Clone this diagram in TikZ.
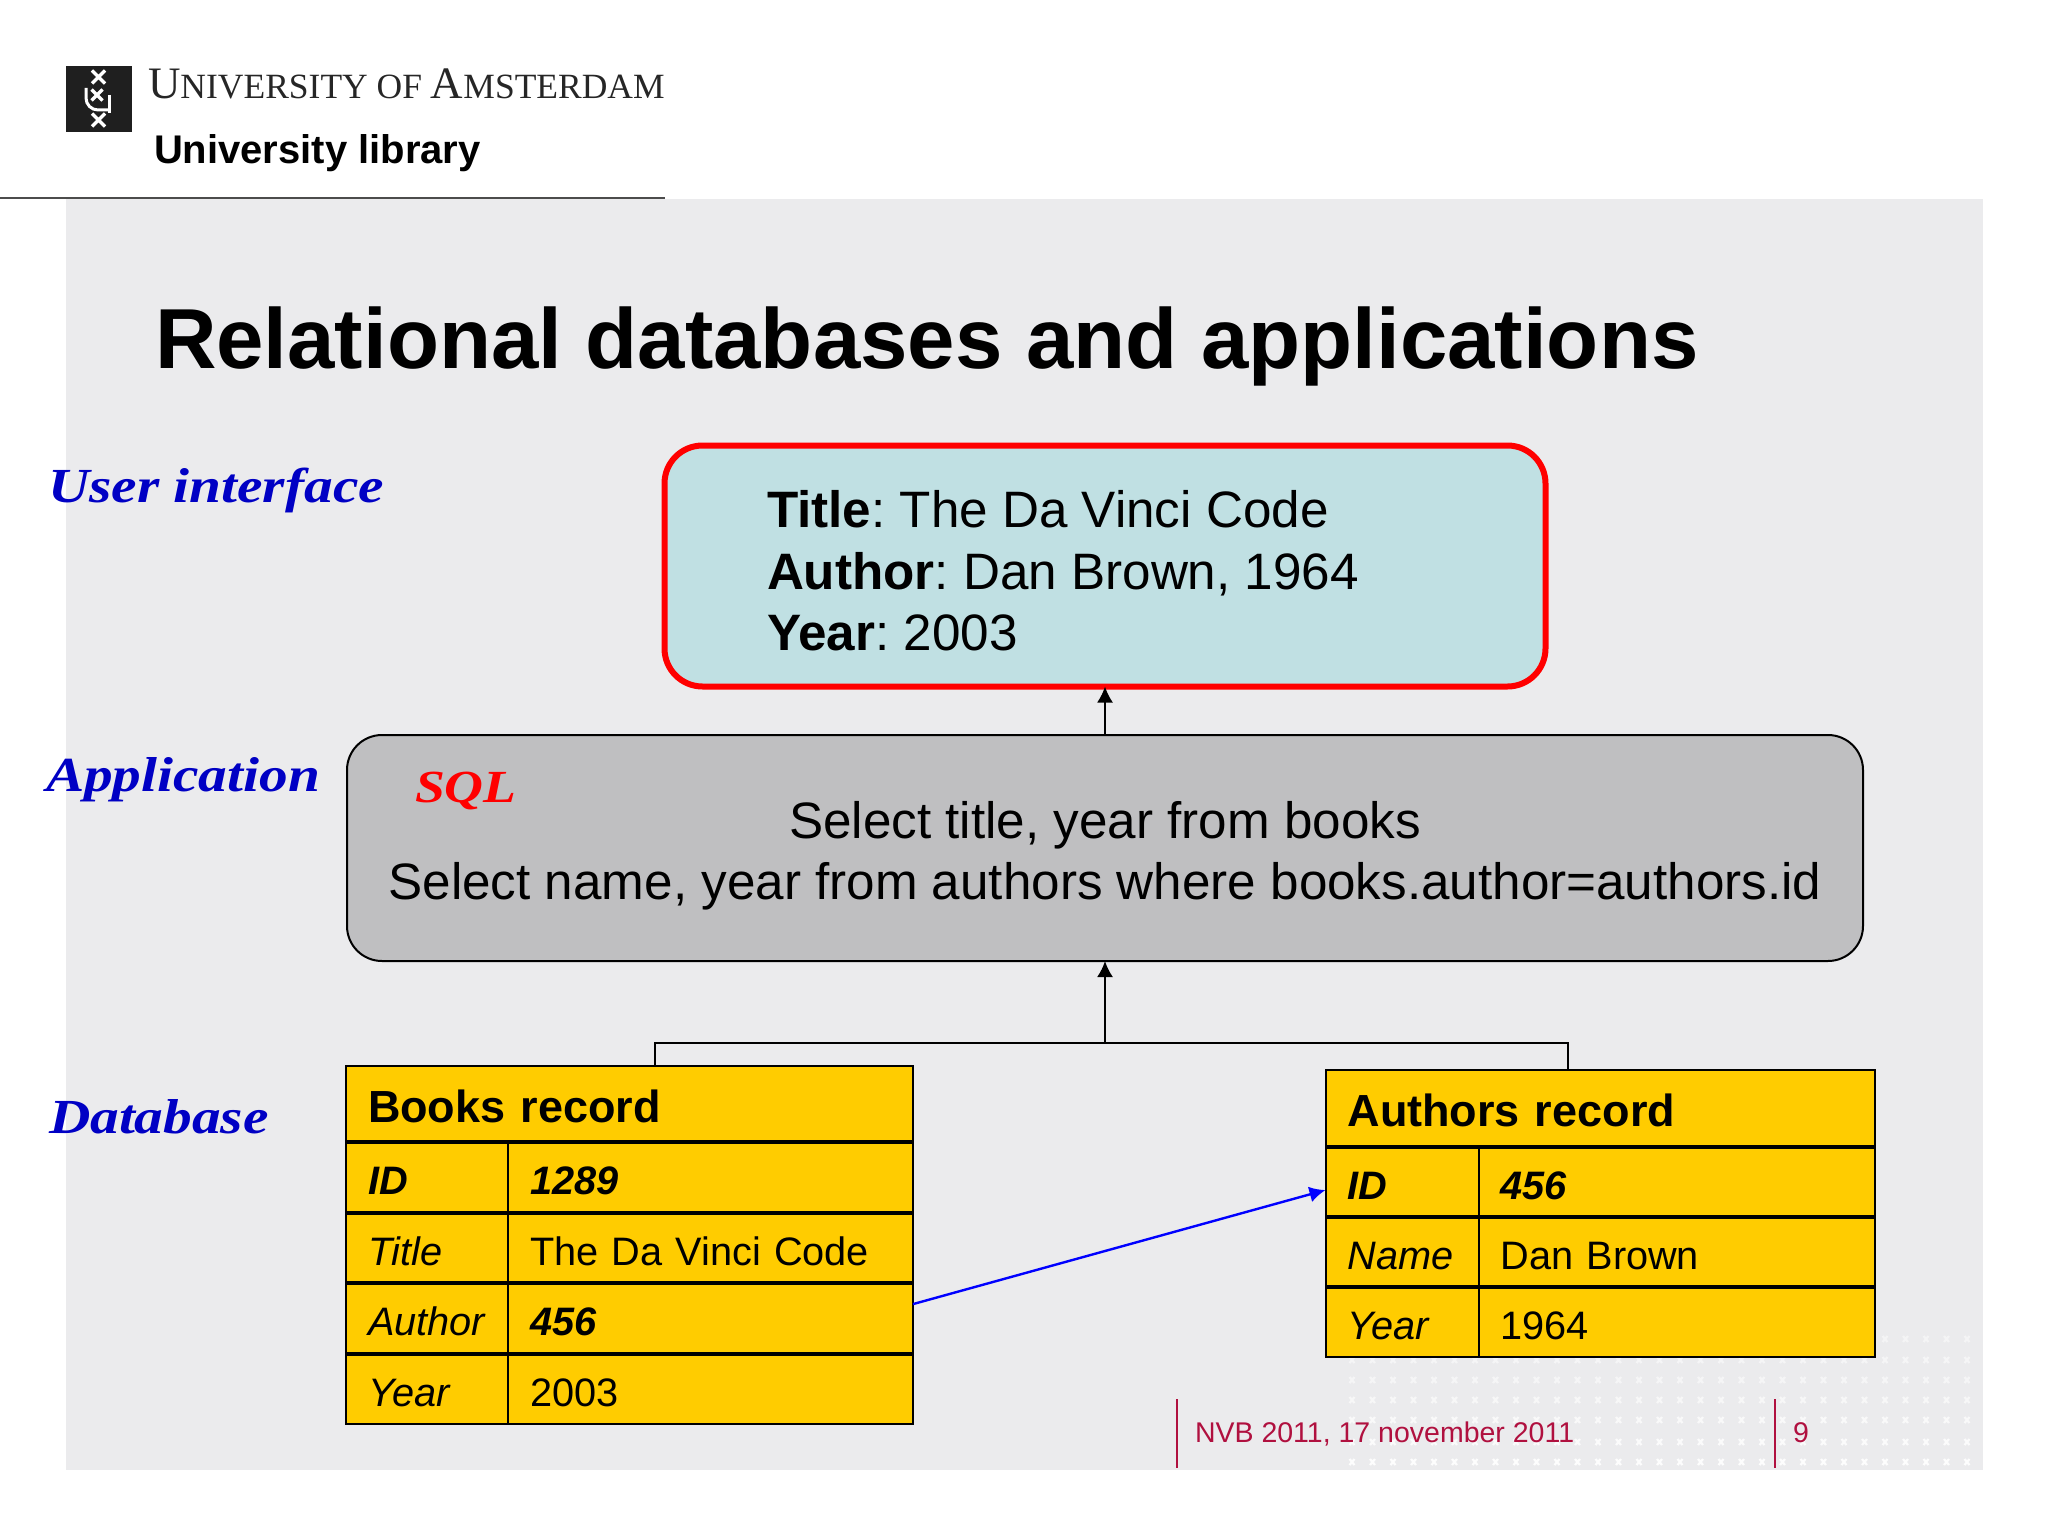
\documentclass[tikz,border=0pt]{standalone}
\usepackage{fontspec}
\setmainfont{Liberation Sans}
\newfontfamily\sidefont[FakeStretch=1.17]{Liberation Serif}
\newfontfamily\uvafont{Liberation Serif}
\usetikzlibrary{arrows.meta,positioning}
\definecolor{pagegrey}{HTML}{EBEBED}
\definecolor{uiblue}{HTML}{C0E0E3}
\definecolor{appgrey}{HTML}{BFBFC1}
\definecolor{recyellow}{HTML}{FFCC00}
\definecolor{sideblue}{HTML}{0000C4}
\definecolor{footred}{HTML}{B0103F}
\frenchspacing
\newcommand{\fs}[1]{\fontsize{#1}{#1}\selectfont}
\newcommand{\uvacap}[2]{{\fs{45}#1}{\fs{35.5}#2}}
\tikzset{
  >={Latex[length=16pt,width=16pt]},
  txt/.style={inner sep=0pt,outer sep=0pt,anchor=base west},
  sidelabel/.style={txt,text=sideblue,font=\sidefont\fs{49}\bfseries\itshape},
  bodyline/.style={txt,font=\fs{51.2}},
  cellbase/.style={draw=black,line width=2pt,fill=recyellow,inner xsep=22pt,inner ysep=0pt,outer sep=0pt,
    anchor=north west,align=left,font=\fs{39.7}},
  rechead/.style 2 args={cellbase,text width=#1-44pt,minimum height=#2,text height=36pt,text depth=0pt,font=\fs{45}\bfseries},
  reccell/.style 2 args={cellbase,text width=#1-44pt,minimum height=#2,text height=34.5pt,text depth=0pt},
  aucell/.style 2 args={reccell={#1}{#2},text height=35pt},
  rowline/.style={line width=4pt},
  footline/.style={draw=footred,line width=2pt},
  foottext/.style={txt,text=footred,font=\fs{28.5}},
  cross/.style={white,line width=2.2pt},
}
\begin{document}
\begin{tikzpicture}[x=1pt,y=-1pt]
\useasboundingbox (0,0) rectangle (2048,1536);
% slide background
\fill[pagegrey] (66,199) rectangle (1983,1470);
\foreach \doty/\dotop in {1339/.45,1360/.5,1380/.55,1400/.6,1420/.7,1442/.8,1462/.9}
  \foreach \dotx in {1352,1372.5,...,1985}
    \draw[cross,opacity=\dotop] (\dotx-2.5,\doty-3) -- (\dotx+2.5,\doty+3) (\dotx+2.5,\doty-3) -- (\dotx-2.5,\doty+3);
\draw[black!70,line width=2pt] (0,198) -- (665,198);
% logo
\fill[black!88] (66,66) rectangle (132,132);
\foreach \crossx/\crossy/\crossr in {98.5/77/6.5,97/95/5.5,98.5/120/6.5}
  \draw[white,line width=3.4pt] (\crossx-\crossr,\crossy-\crossr) -- (\crossx+\crossr,\crossy+\crossr) (\crossx+\crossr,\crossy-\crossr) -- (\crossx-\crossr,\crossy+\crossr);
\draw[white,line width=3pt] (86,88) -- (86,98) to[out=-90,in=180] (98,110) -- (110,110);
\draw[white,line width=3pt] (109,95) -- (109,113);
\node[txt,text=black!85,font=\uvafont\fs{35.5}] (uvaname) at (148,99) {\uvacap{U}{NIVERSITY} \uvacap{}{OF} \uvacap{A}{MSTERDAM}};
\node[txt,font=\fs{40}\bfseries] (unilib) at (154,164) {University library};
% title
\node[txt,font=\fs{85.2}\bfseries] (title) at (155,368) {Relational databases and applications};
% side labels
\node[sidelabel] (lblui) at (48,502) {User interface};
\node[sidelabel] (lblapp) at (46,791) {Application};
\node[sidelabel] (lbldb) at (49,1133) {Database};
% user interface box
\node[draw=red,line width=6pt,fill=uiblue,rounded corners=38pt,minimum width=881pt,minimum height=241pt,inner sep=0pt,outer sep=0pt] (ui) at (1105,566) {};
\node[bodyline] (uititle) at (767,527) {\textbf{Title}: The Da Vinci Code};
\node[bodyline] (uiauthor) at (767,589) {\textbf{Author}: Dan Brown, 1964};
\node[bodyline] (uiyear) at (767,650) {\textbf{Year}: 2003};
% application box
\node[draw=black,line width=2pt,fill=appgrey,rounded corners=35pt,minimum width=1516pt,minimum height=226pt,inner sep=0pt,outer sep=0pt] (app) at (1105,848) {};
\node[txt,text=red,font=\sidefont\fs{46}\bfseries\itshape] (sql) at (415,802) {SQL};
\node[inner sep=0pt,anchor=base,font=\fs{51.2}] (sqlone) at (1105,838.5) {Select title, year from books};
\node[inner sep=0pt,anchor=base,font=\fs{51.2}] (sqltwo) at (1105,899.5) {Select name, year from authors where books.author=authors.id};
% books record
\node[rechead={567pt}{76pt}] (bkhead) at (346,1066) {Books record};
\node[reccell={162pt}{70.5pt}] (bkidk) at (bkhead.south west) {\textbf{\textit{ID}}};
\node[reccell={405pt}{70.5pt}] (bkidv) at (bkidk.north east) {\textbf{\textit{1289}}};
\node[reccell={162pt}{70.5pt}] (bktitlek) at (bkidk.south west) {\textit{Title}};
\node[reccell={405pt}{70.5pt}] (bktitlev) at (bktitlek.north east) {The Da Vinci Code};
\node[reccell={162pt}{70.5pt}] (bkauthork) at (bktitlek.south west) {\textit{Author}};
\node[reccell={405pt}{70.5pt}] (bkauthorv) at (bkauthork.north east) {\textbf{\textit{456}}};
\node[reccell={162pt}{70.5pt}] (bkyeark) at (bkauthork.south west) {\textit{Year}};
\node[reccell={405pt}{70.5pt}] (bkyearv) at (bkyeark.north east) {2003};
\draw[rowline] (bkhead.south west) -- (bkhead.south east);
\draw[rowline] (bkidk.south west) -- (bkidv.south east);
\draw[rowline] (bktitlek.south west) -- (bktitlev.south east);
\draw[rowline] (bkauthork.south west) -- (bkauthorv.south east);
% authors record
\node[rechead={549pt}{77pt}] (auhead) at (1325.5,1070) {Authors record};
\node[aucell={153pt}{70pt}] (auidk) at (auhead.south west) {\textbf{\textit{ID}}};
\node[aucell={396pt}{70pt}] (auidv) at (auidk.north east) {\textbf{\textit{456}}};
\node[aucell={153pt}{70pt}] (aunamek) at (auidk.south west) {\textit{Name}};
\node[aucell={396pt}{70pt}] (aunamev) at (aunamek.north east) {Dan Brown};
\node[aucell={153pt}{70pt}] (auyeark) at (aunamek.south west) {\textit{Year}};
\node[aucell={396pt}{70pt}] (auyearv) at (auyeark.north east) {1964};
\draw[rowline] (auhead.south west) -- (auhead.south east);
\draw[rowline] (auidk.south west) -- (auidv.south east);
\draw[rowline] (aunamek.south west) -- (aunamev.south east);
% connectors
\coordinate (join) at (1105,1043);
\coordinate (bktop) at (655,1066);
\coordinate (autop) at (1568,1070);
\draw[line width=2pt] (bktop) |- (join) -| (autop);
\draw[->,line width=2pt] (join) -- (app.south);
\draw[->,line width=2pt] (app.north) -- (ui.south);
\draw[->,line width=2.4pt,blue] (bkauthorv.4.2) -- (auidk.186.7);
% footer
\coordinate (foota) at (1177,1399);
\coordinate (footb) at (1775,1399);
\draw[footline] (foota) -- (1177,1468);
\draw[footline] (footb) -- (1775,1468);
\node[foottext] (footdate) at (1195,1442) {NVB 2011, 17 november 2011};
\node[foottext] (footpage) at (1793,1442) {9};
\end{tikzpicture}
\end{document}
